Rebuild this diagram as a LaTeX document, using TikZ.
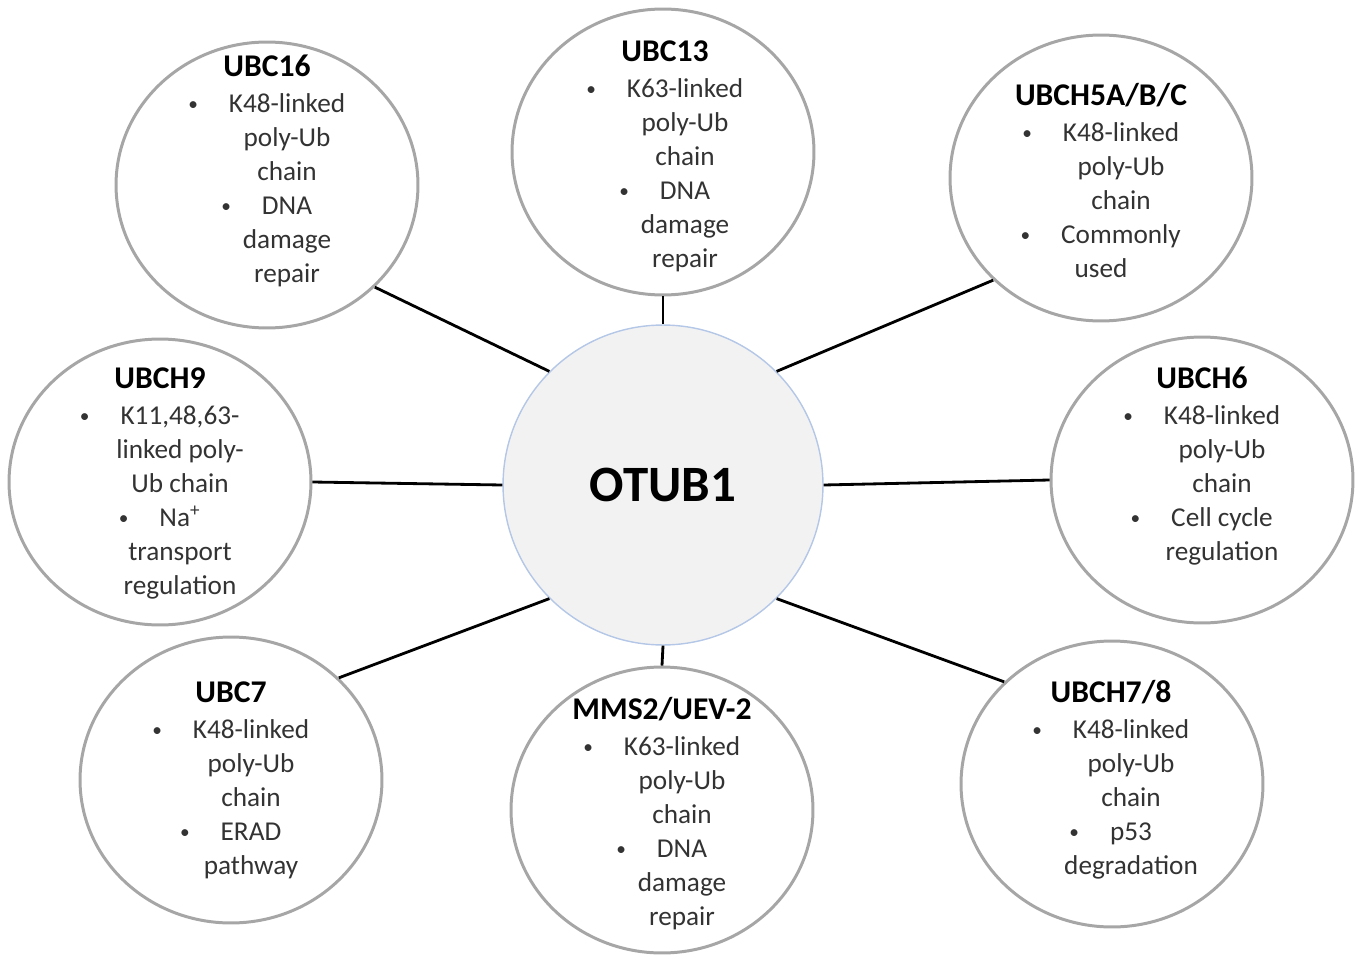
\documentclass[tikz,border=0pt]{standalone}
\usepackage{fontspec}
\setmainfont{Carlito}
\usetikzlibrary{shapes.geometric}

\definecolor{ringgray}{HTML}{A6A6A6}
\definecolor{hubfill}{HTML}{F2F2F2}
\definecolor{hubedge}{HTML}{B4C7E7}

\newcommand{\ind}{\hspace*{0.8cm}}
\newcommand{\itm}{\hspace*{0.8cm}\llap{\raisebox{0.05em}{\fontsize{11pt}{0pt}\selectfont\textbullet}\hspace{0.62cm}}}
\newcommand{\ttl}[1]{{\fontsize{18pt}{0.68cm}\selectfont\bfseries\color{black}#1}}

\begin{document}
\begin{tikzpicture}[x=0.02cm, y=-0.02cm,
        every node/.append style={inner sep=0pt},
        ring/.style={ellipse, draw=ringgray, line width=1.7pt, fill=white,
          minimum width=6.04cm, minimum height=5.72cm},
        hub/.style={circle, draw=hubedge, line width=0.8pt, fill=hubfill, minimum size=6.4cm},
        link/.style={line width=1.6pt, black}]
      % base anchor = baseline of the last line
      \tikzstyle{txt} = [align=center, anchor=base, text=black!80,
        font={\fontsize{15.5pt}{0.68cm}\selectfont}]
      \useasboundingbox (0,0) rectangle (1358,956);
      % centre
      \node (OTUB1) [hub] at (663,485) {\fontsize{29pt}{34pt}\selectfont\bfseries OTUB1};
      % the eight partners
      \node (UBC16) [ring] at (267,185) {};
      \node (UBC13) [ring] at (663,152) {};
      \node (UBCH5) [ring] at (1101,178) {};
      \node (UBCH9) [ring] at (160,482) {};
      \node (UBCH6) [ring] at (1202,480) {};
      \node (UBC7) [ring] at (231,780) {};
      \node (MMS2) [ring] at (662,810) {};
      \node (UBCH78) [ring] at (1112,784) {};
      \node (UBC16txt) [txt] at (267,282) {\ttl{UBC16}\\[0.04cm]
        \itm K48-linked\\ \ind poly-Ub\\ \ind chain\\ \itm DNA\\ \ind damage\\ \ind repair};
      \node (UBC13txt) [txt] at (665,267) {\ttl{UBC13}\\[0.04cm]
        \itm K63-linked\\ \ind poly-Ub\\ \ind chain\\ \itm DNA\\ \ind damage\\ \ind repair};
      \node (UBCH5txt) [txt] at (1101,277) {\ttl{UBCH5A/B/C}\\[0.04cm]
        \itm K48-linked\\ \ind poly-Ub\\ \ind chain\\ \itm Commonly\\ used};
      \node (UBCH9txt) [txt] at (160,594) {\ttl{UBCH9}\\[0.04cm]
        \itm K11,48,63-\\ \ind linked poly-\\ \ind Ub chain\\ \itm Na\textsuperscript{+}\\ \ind transport\\ \ind regulation};
      \node (UBCH6txt) [txt] at (1202,560) {\ttl{UBCH6}\\[0.04cm]
        \itm K48-linked\\ \ind poly-Ub\\ \ind chain\\ \itm Cell cycle\\ \ind regulation};
      \node (UBC7txt) [txt] at (231,874) {\ttl{UBC7}\\[0.04cm]
        \itm K48-linked\\ \ind poly-Ub\\ \ind chain\\ \itm ERAD\\ \ind pathway};
      \node (MMS2txt) [txt] at (662,925) {\ttl{MMS2/UEV-2}\\[0.04cm]
        \itm K63-linked\\ \ind poly-Ub\\ \ind chain\\ \itm DNA\\ \ind damage\\ \ind repair};
      \node (UBCH78txt) [txt] at (1111,874) {\ttl{UBCH7/8}\\[0.04cm]
        \itm K48-linked\\ \ind poly-Ub\\ \ind chain\\ \itm p53\\ \ind degradation};
      % links to OTUB1
      \draw[link] (UBC16.south east) -- (OTUB1.north west);
      \draw[link] (UBC13.south) -- (OTUB1.north);
      \draw[link] (UBCH5.south west) -- (OTUB1.north east);
      \draw[link] (UBCH9.east) -- (OTUB1.west);
      \draw[link] (UBCH6.west) -- (OTUB1.east);
      \draw[link] (UBC7.north east) -- (OTUB1.south west);
      \draw[link] (MMS2.north) -- (OTUB1.south);
      \draw[link] (UBCH78.north west) -- (OTUB1.south east);
    \end{tikzpicture}
\end{document}
